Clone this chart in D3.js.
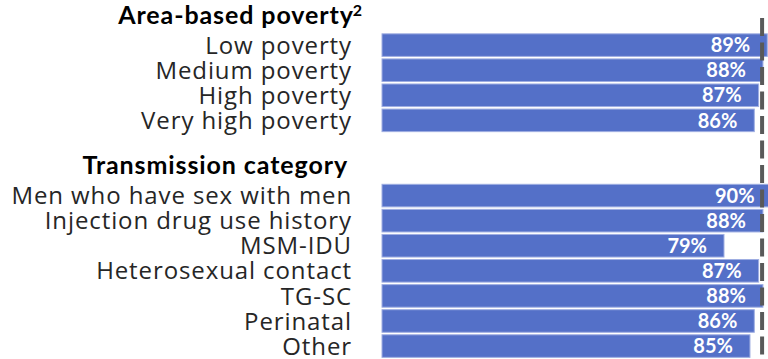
<!DOCTYPE html>
<html>
<head>
<meta charset="utf-8">
<script src="https://cdn.jsdelivr.net/npm/d3@7"></script>
<style>
  html, body { margin: 0; padding: 0; background: #fff; }
  svg { display: block; }
</style>
</head>
<body>
<svg id="chart" width="768" height="359"></svg>
<script>
// Viral suppression by area-based poverty and transmission category
const povertyCategories = ["Low poverty", "Medium poverty", "High poverty", "Very high poverty"];
const povertyValues = [89, 88, 87, 86];

const transmissionCategories = ["Men who have sex with men", "Injection drug use history", "MSM-IDU",
  "Heterosexual contact", "TG-SC", "Perinatal", "Other"];
const transmissionValues = [90, 88, 79, 87, 88, 86, 85];

const groupTitles = ["Area-based poverty", "Transmission category"];
const overallPct = 87.8;

// Flatten into rows: a header row per group, a spacer between groups
const rows = [];
rows.push({ type: "header", label: groupTitles[0], sup: "2" });
povertyCategories.forEach((c, i) => rows.push({ type: "bar", label: c, value: povertyValues[i] }));
rows.push({ type: "spacer", label: "" });
rows.push({ type: "header", label: groupTitles[1] });
transmissionCategories.forEach((c, i) => rows.push({ type: "bar", label: c, value: transmissionValues[i] }));
rows.forEach((r, i) => r.key = i);

const svg = d3.select("#chart");
const W = 768, H = 359;

const x = d3.scaleLinear().domain([0, 100]).range([382, 382 + 432.9]);
const y = d3.scaleBand()
  .domain(rows.map(r => r.key))
  .range([7.5, 358.6])
  .paddingInner(0.1)
  .paddingOuter(0.05);

const barRows = rows.filter(r => r.type === "bar");

// Bars
svg.append("g").selectAll("rect")
  .data(barRows)
  .join("rect")
  .attr("x", x(0))
  .attr("y", d => y(d.key))
  .attr("width", d => x(d.value) - x(0))
  .attr("height", y.bandwidth())
  .attr("fill", "#5470C8")
  .attr("stroke", "#9FAEE2")
  .attr("stroke-width", 1);

// Value labels inside the bar ends
svg.append("g").selectAll("text")
  .data(barRows)
  .join("text")
  .attr("x", d => x(d.value) - 17)
  .attr("y", d => y(d.key) + y.bandwidth() / 2)
  .attr("dy", "0.36em")
  .attr("text-anchor", "end")
  .attr("fill", "#fff")
  .attr("font-family", "Lato, 'Open Sans', sans-serif")
  .attr("font-weight", "bold")
  .attr("font-size", 20)
  .text(d => d.value + "%");

// Category labels
svg.append("g").selectAll("text")
  .data(barRows)
  .join("text")
  .attr("x", 352)
  .attr("y", d => y(d.key) + y.bandwidth() / 2)
  .attr("dy", "0.36em")
  .attr("text-anchor", "end")
  .attr("fill", "#262626")
  .attr("font-family", "'Open Sans', sans-serif")
  .attr("font-size", 24)
  .attr("letter-spacing", 0.9)
  .text(d => d.label);

// Group headers
const headers = svg.append("g").selectAll("text")
  .data(rows.filter(r => r.type === "header"))
  .join("text")
  .attr("x", d => d.sup ? 362 : 348)
  .attr("y", d => y(d.key) + y.bandwidth() / 2 - 5.5)
  .attr("dy", "0.36em")
  .attr("text-anchor", "end")
  .attr("fill", "#000")
  .attr("font-family", "Lato, 'Open Sans', sans-serif")
  .attr("font-weight", "bold")
  .attr("font-size", 25)
  .attr("letter-spacing", 0.9);
headers.append("tspan").text(d => d.label);
headers.filter(d => d.sup)
  .append("tspan")
  .attr("dy", "-0.45em")
  .attr("dx", -1)
  .attr("font-size", 16)
  .attr("letter-spacing", 0)
  .text(d => d.sup);

// Overall reference line
svg.append("line")
  .attr("x1", x(overallPct)).attr("x2", x(overallPct))
  .attr("y1", 18).attr("y2", H)
  .attr("stroke", "#595959")
  .attr("stroke-width", 4)
  .attr("stroke-dasharray", "18,6.5");
</script>
</body>
</html>
